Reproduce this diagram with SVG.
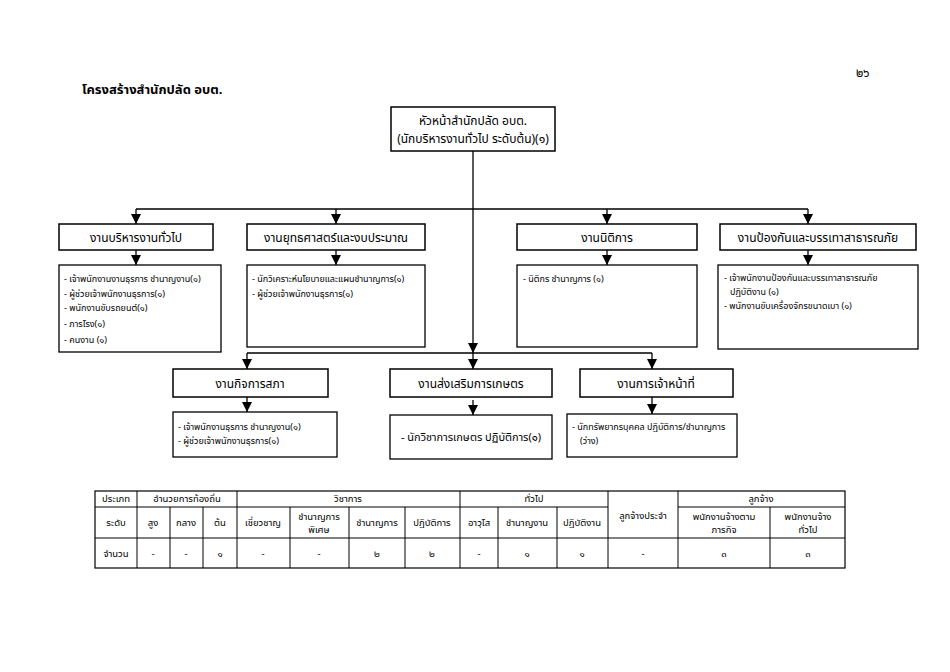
<svg xmlns="http://www.w3.org/2000/svg" width="950" height="672" viewBox="0 0 950 672">
<defs>
<marker id="arr" markerUnits="userSpaceOnUse" markerWidth="10" markerHeight="10" viewBox="0 0 10 10" refX="10" refY="5" orient="auto">
<path d="M0,0 L10,5 L0,10 Z" fill="#000"/>
</marker>
<style>
text{font-family:"Noto Sans Thai","Noto Sans Thai UI","Tahoma","Loma","Garuda","Liberation Sans",sans-serif;fill:#000}
.box{fill:#fff;stroke:#000;stroke-width:1.5}
.dbox{fill:#fff;stroke:#000;stroke-width:1.3}
.h{font-size:12px;text-anchor:middle}
.d{font-size:9px}
.c{stroke:#000;stroke-width:1.3;fill:none}
.a{stroke:#000;stroke-width:1.3;fill:none;marker-end:url(#arr)}
.t{font-size:9.5px;text-anchor:middle}
.tl{stroke:#000;stroke-width:1;fill:none}
</style>
</defs>
<rect width="950" height="672" fill="#fff"/>
<text x="856" y="77" style="font-size:12px">๒๖</text>
<text x="82" y="94" style="font-size:13px;font-weight:bold">โครงสร้างสำนักปลัด อบต.</text>

<g id="connectors">
<line class="a" x1="473" y1="151" x2="473" y2="353"/>
<line class="c" x1="136" y1="209" x2="808" y2="209"/>
<line class="a" x1="136" y1="209" x2="136" y2="224"/>
<line class="a" x1="336" y1="209" x2="336" y2="224"/>
<line class="a" x1="607" y1="209" x2="607" y2="224"/>
<line class="a" x1="808" y1="209" x2="808" y2="224"/>
<line class="a" x1="136" y1="250" x2="136" y2="265"/>
<line class="a" x1="336" y1="250" x2="336" y2="265"/>
<line class="a" x1="607" y1="250" x2="607" y2="265"/>
<line class="a" x1="808" y1="250" x2="808" y2="265"/>
<line class="c" x1="247" y1="353" x2="652" y2="353"/>
<line class="a" x1="247" y1="353" x2="247" y2="369"/>
<line class="a" x1="473" y1="353" x2="473" y2="369"/>
<line class="a" x1="652" y1="353" x2="652" y2="369"/>
<line class="a" x1="247" y1="397" x2="247" y2="412"/>
<line class="a" x1="473" y1="400" x2="473" y2="415"/>
<line class="a" x1="652" y1="397" x2="652" y2="414"/>
</g>

<g id="head">
<rect class="box" x="391" y="107" width="164" height="44"/>
<text class="h" x="473" y="125">หัวหน้าสำนักปลัด อบต.</text>
<text class="h" x="473" y="143">(นักบริหารงานทั่วไป ระดับต้น)(๑)</text>
</g>

<g id="n1">
<rect class="box" x="59" y="224" width="154" height="26"/>
<text class="h" x="136" y="242">งานบริหารงานทั่วไป</text>
<rect class="dbox" x="59" y="265" width="162" height="87"/>
<text class="d" x="64" y="282">- เจ้าพนักงานงานธุรการ ชำนาญงาน(๑)</text>
<text class="d" x="64" y="297">- ผู้ช่วยเจ้าพนักงานธุรการ(๑)</text>
<text class="d" x="64" y="311">- พนักงานขับรถยนต์(๑)</text>
<text class="d" x="64" y="327">- ภารโรง(๑)</text>
<text class="d" x="64" y="343">- คนงาน (๑)</text>
</g>

<g id="n2">
<rect class="box" x="247" y="224" width="178" height="26"/>
<text class="h" x="336" y="242">งานยุทธศาสตร์และงบประมาณ</text>
<rect class="dbox" x="247" y="265" width="178" height="82"/>
<text class="d" x="252" y="282">- นักวิเคราะห์นโยบายและแผนชำนาญการ(๑)</text>
<text class="d" x="252" y="297">- ผู้ช่วยเจ้าพนักงานธุรการ(๑)</text>
</g>

<g id="n3">
<rect class="box" x="517" y="224" width="180" height="26"/>
<text class="h" x="607" y="242">งานนิติการ</text>
<rect class="dbox" x="517" y="265" width="180" height="82"/>
<text class="d" x="523" y="282">- นิติกร ชำนาญการ  (๑)</text>
</g>

<g id="n4">
<rect class="box" x="720" y="224" width="196" height="26"/>
<text class="h" x="818" y="242">งานป้องกันและบรรเทาสาธารณภัย</text>
<rect class="dbox" x="718" y="265" width="200" height="84"/>
<text class="d" x="724" y="281">- เจ้าพนักงานป้องกันและบรรเทาสาธารณภัย</text>
<text class="d" x="730" y="295">ปฏิบัติงาน (๑)</text>
<text class="d" x="724" y="309">- พนักงานขับเครื่องจักรขนาดเบา   (๑)</text>
</g>

<g id="n5">
<rect class="box" x="173" y="369" width="155" height="28"/>
<text class="h" x="250" y="388">งานกิจการสภา</text>
<rect class="dbox" x="173" y="412" width="164" height="45"/>
<text class="d" x="178" y="430">- เจ้าพนักงานธุรการ ชำนาญงาน(๑)</text>
<text class="d" x="178" y="444">- ผู้ช่วยเจ้าพนักงานธุรการ(๑)</text>
</g>

<g id="n6">
<rect class="box" x="390" y="369" width="162" height="28"/>
<text class="h" x="471" y="388">งานส่งเสริมการเกษตร</text>
<rect class="dbox" x="390" y="415" width="162" height="44"/>
<text x="471" y="441" style="font-size:11px;text-anchor:middle">- นักวิชาการเกษตร ปฏิบัติการ(๑)</text>
</g>

<g id="n7">
<rect class="box" x="580" y="369" width="153" height="28"/>
<text class="h" x="656" y="388">งานการเจ้าหน้าที่</text>
<rect class="dbox" x="567" y="414" width="170" height="43"/>
<text class="d" x="572" y="430">- นักทรัพยากรบุคคล ปฏิบัติการ/ชำนาญการ</text>
<text class="d" x="580" y="444">(ว่าง)</text>
</g>

<g id="table">
<rect class="tl" x="95" y="491" width="750" height="77" style="stroke-width:1.2"/>
<line class="tl" x1="95" y1="507" x2="608" y2="507"/>
<line class="tl" x1="678" y1="507" x2="845" y2="507"/>
<line class="tl" x1="95" y1="538" x2="845" y2="538"/>
<line class="tl" x1="137" y1="491" x2="137" y2="568"/>
<line class="tl" x1="170" y1="507" x2="170" y2="568"/>
<line class="tl" x1="203" y1="507" x2="203" y2="568"/>
<line class="tl" x1="237" y1="491" x2="237" y2="568"/>
<line class="tl" x1="290" y1="507" x2="290" y2="568"/>
<line class="tl" x1="349" y1="507" x2="349" y2="568"/>
<line class="tl" x1="405" y1="507" x2="405" y2="568"/>
<line class="tl" x1="460" y1="491" x2="460" y2="568"/>
<line class="tl" x1="498" y1="507" x2="498" y2="568"/>
<line class="tl" x1="557" y1="507" x2="557" y2="568"/>
<line class="tl" x1="608" y1="491" x2="608" y2="568"/>
<line class="tl" x1="678" y1="491" x2="678" y2="568"/>
<line class="tl" x1="770" y1="507" x2="770" y2="568"/>
<text class="t" x="116" y="502">ประเภท</text>
<text class="t" x="187" y="502">อำนวยการท้องถิ่น</text>
<text class="t" x="348" y="502">วิชาการ</text>
<text class="t" x="534" y="502">ทั่วไป</text>
<text class="t" x="643" y="519">ลูกจ้างประจำ</text>
<text class="t" x="761" y="502">ลูกจ้าง</text>
<text class="t" x="116" y="526">ระดับ</text>
<text class="t" x="153" y="526">สูง</text>
<text class="t" x="186" y="526">กลาง</text>
<text class="t" x="220" y="526">ต้น</text>
<text class="t" x="263" y="526">เชี่ยวชาญ</text>
<text class="t" x="319" y="520">ชำนาญการ</text>
<text class="t" x="319" y="533">พิเศษ</text>
<text class="t" x="377" y="526">ชำนาญการ</text>
<text class="t" x="432" y="526">ปฏิบัติการ</text>
<text class="t" x="479" y="526">อาวุโส</text>
<text class="t" x="527" y="526">ชำนาญงาน</text>
<text class="t" x="582" y="526">ปฏิบัติงาน</text>
<text class="t" x="724" y="520">พนักงานจ้างตาม</text>
<text class="t" x="724" y="533">ภารกิจ</text>
<text class="t" x="808" y="520">พนักงานจ้าง</text>
<text class="t" x="808" y="533">ทั่วไป</text>
<text class="t" x="116" y="557">จำนวน</text>
<text class="t" x="153" y="557">-</text>
<text class="t" x="186" y="557">-</text>
<text class="t" x="220" y="557">๑</text>
<text class="t" x="263" y="557">-</text>
<text class="t" x="319" y="557">-</text>
<text class="t" x="377" y="557">๒</text>
<text class="t" x="432" y="557">๒</text>
<text class="t" x="479" y="557">-</text>
<text class="t" x="527" y="557">๑</text>
<text class="t" x="582" y="557">๑</text>
<text class="t" x="643" y="557">-</text>
<text class="t" x="724" y="557">๓</text>
<text class="t" x="808" y="557">๓</text>
</g>
</svg>
